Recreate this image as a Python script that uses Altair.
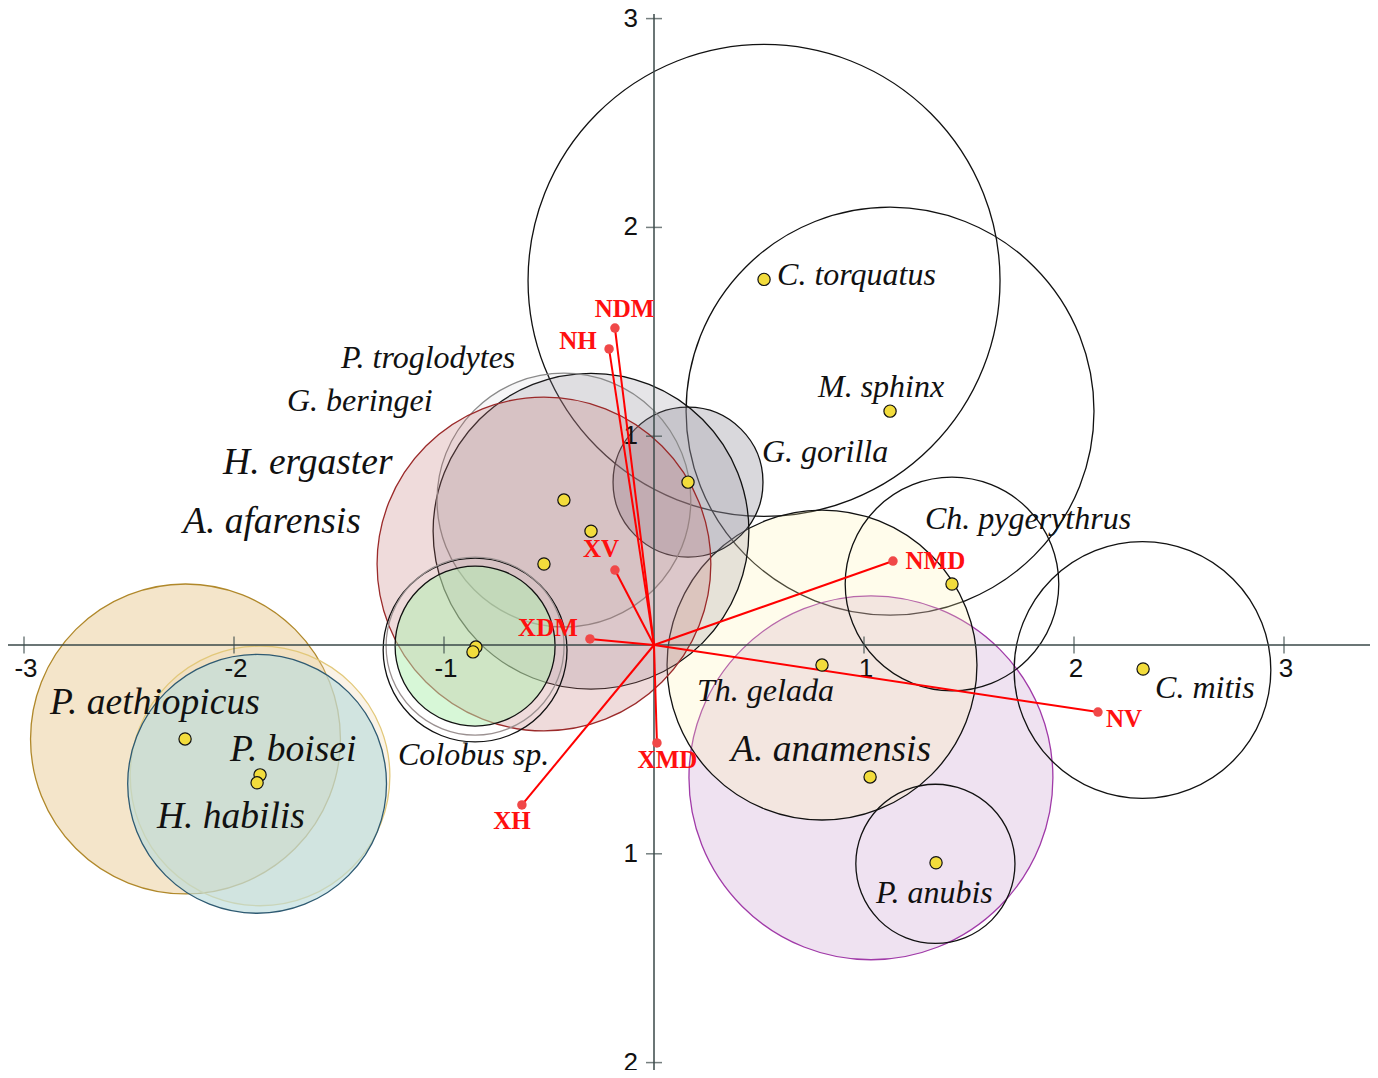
import altair as alt
import pandas as pd

# ---------------- data ----------------
# taxa points (score coordinates)
point_x = [0.524, 1.124, 0.162, -0.429, -0.300, -0.524, -0.848, -0.862, 0.800, 1.419,
           2.329, 1.029, 1.343, -2.233, -1.876, -1.890]
point_y = [1.751, 1.120, 0.780, 0.694, 0.545, 0.388, -0.010, -0.033, -0.096, 0.292,
           -0.115, -0.632, -1.043, -0.450, -0.622, -0.660]

# confidence circles: centre and radius (in axis units), listed in drawing order
circle_id = ["C. torquatus", "M. sphinx", "A. anamensis", "Th. gelada", "Ch. pygerythrus",
             "C. mitis", "P. anubis", "G. gorilla", "cluster 1", "cluster 2", "cluster 3",
             "Colobus 1", "Colobus 2", "Colobus 3", "P. aethiopicus", "P. boisei", "H. habilis"]
circle_x = [0.524, 1.124, 1.033, 0.800, 1.419, 2.326, 1.340, 0.162, -0.300, -0.429, -0.524,
            -0.852, -0.852, -0.852, -2.231, -1.876, -1.890]
circle_y = [1.746, 1.120, -0.636, -0.096, 0.292, -0.120, -1.048, 0.780, 0.545, 0.694, 0.388,
            -0.024, -0.005, -0.005, -0.450, -0.627, -0.665]
circle_r = [1.127, 0.974, 0.869, 0.740, 0.510, 0.613, 0.380, 0.358, 0.754, 0.606, 0.797,
            0.439, 0.425, 0.382, 0.740, 0.620, 0.618]

# circle styles (fill colour, fill opacity, stroke colour)
circle_style = {
    "C. torquatus": ("#ffffff", 0.0, "#111111"),
    "M. sphinx": ("#ffffff", 0.0, "#111111"),
    "A. anamensis": ("#b070b8", 0.2, "#a03aa8"),
    "Th. gelada": ("#fff3b0", 0.25, "#111111"),
    "Ch. pygerythrus": ("#ffffff", 0.0, "#111111"),
    "C. mitis": ("#ffffff", 0.0, "#111111"),
    "P. anubis": ("#ffffff", 0.0, "#111111"),
    "G. gorilla": ("#8c8a94", 0.33, "#111111"),
    "cluster 1": ("#8c8a94", 0.22, "#111111"),
    "cluster 2": ("#8c8a94", 0.08, "#8a8a8a"),
    "cluster 3": ("#c07070", 0.25, "#9b2a2a"),
    "Colobus 1": ("#ffffff", 0.0, "#111111"),
    "Colobus 2": ("#ffffff", 0.0, "#9a9090"),
    "Colobus 3": ("#b0f0b0", 0.5, "#111111"),
    "P. aethiopicus": ("#d9a84e", 0.3, "#b0882a"),
    "P. boisei": ("#f0d8b0", 0.3, "#e2c87a"),
    "H. habilis": ("#bcdcdc", 0.65, "#2e5a72"),
}

# taxon labels and their anchor positions
label_text = ["C. torquatus", "M. sphinx", "G. gorilla", "P. troglodytes", "G. beringei",
              "H. ergaster", "A. afarensis", "Ch. pygerythrus", "C. mitis", "Th. gelada",
              "A. anamensis", "P. anubis", "P. aethiopicus", "P. boisei", "H. habilis",
              "Colobus sp."]
label_x = [0.586, 0.781, 0.514, -1.490, -1.748, -2.052, -2.243, 1.290, 2.386, 0.205,
           0.367, 1.057, -2.876, -2.019, -2.367, -1.219]
label_y = [1.724, 1.188, 0.876, 1.327, 1.121, 0.819, 0.536, 0.556, -0.254, -0.268,
           -0.556, -1.236, -0.331, -0.556, -0.876, -0.575]
label_big = [False, False, False, False, False, True, True, False, False, False,
             True, False, True, True, True, False]

# variable vectors (loadings)
vec_name = ["NDM", "NH", "XV", "XDM", "NMD", "NV", "XMD", "XH"]
vec_x = [-0.186, -0.214, -0.186, -0.305, 1.138, 2.114, 0.014, -0.629]
vec_y = [1.518, 1.418, 0.359, 0.029, 0.402, -0.321, -0.469, -0.766]
vec_label_x = [-0.140, -0.362, -0.252, -0.505, 1.340, 2.238, 0.064, -0.676]
vec_label_y = [1.571, 1.418, 0.421, 0.043, 0.364, -0.393, -0.589, -0.881]

# axis ticks
x_ticks = [-3, -2, -1, 1, 2, 3]
x_tick_labels = ["-3", "-2", "-1", "1", "2", "3"]
y_ticks = [3, 2, 1, -1, -2]
y_tick_labels = ["3", "2", "1", "1", "2"]

# ---------------- layout ----------------
PAD_V = 6
W, H = 1362, 1062 - 2 * PAD_V
PX_X, PX_Y = 210.0, 208.8
X_MIN = -646 / PX_X
X_MAX = X_MIN + W / PX_X
Y_MAX = (637 - PAD_V) / PX_Y
Y_MIN = Y_MAX - H / PX_Y
R_PX = (PX_X + PX_Y) / 2

xs = alt.Scale(domain=[X_MIN, X_MAX], nice=False, zero=False)
ys = alt.Scale(domain=[Y_MIN, Y_MAX], nice=False, zero=False)


def X(f):
    return alt.X(f, type="quantitative", scale=xs, axis=None)


def Y(f):
    return alt.Y(f, type="quantitative", scale=ys, axis=None)


circ_df = pd.DataFrame({
    "name": circle_id, "x": circle_x, "y": circle_y, "r": circle_r,
    "idx": list(range(len(circle_id))),
    "fill": [circle_style[n][0] for n in circle_id],
    "fo": [circle_style[n][1] for n in circle_id],
    "stroke": [circle_style[n][2] for n in circle_id],
})
pts_df = pd.DataFrame({"x": point_x, "y": point_y})
lab_df = pd.DataFrame({"t": label_text, "x": label_x, "y": label_y,
                       "fs": [37.5 if b else 32 for b in label_big]})
vec_df = pd.DataFrame({"name": vec_name, "x": vec_x, "y": vec_y,
                       "ox": [0.0] * len(vec_name), "oy": [0.0] * len(vec_name),
                       "lx": vec_label_x, "ly": vec_label_y})
axes_df = pd.DataFrame({"x": [X_MIN, 0.0], "x2": [X_MAX, 0.0],
                        "y": [0.0, Y_MIN - PAD_V / PX_Y], "y2": [0.0, Y_MAX]})
xt_df = pd.DataFrame({"v": x_ticks, "t": x_tick_labels, "z": [0.0] * len(x_ticks)})
yt_df = pd.DataFrame({"v": y_ticks, "t": y_tick_labels, "z": [0.0] * len(y_ticks)})

AXC = "#3a4848"

circles = alt.Chart(circ_df).mark_point(shape="circle", filled=True, opacity=1, strokeWidth=1.3).encode(
    x=X("x"), y=Y("y"),
    size=alt.Size("r:Q", scale=alt.Scale(type="pow", exponent=2, domain=[0, 1],
                                         range=[0, (2 * R_PX) ** 2]), legend=None),
    fill=alt.Fill("fill:N", scale=None),
    fillOpacity=alt.FillOpacity("fo:Q", scale=None),
    stroke=alt.Stroke("stroke:N", scale=None),
    order=alt.Order("idx:Q"),
)

axes = alt.Chart(axes_df).mark_rule(color=AXC, strokeWidth=1.5).encode(
    x=X("x"), x2="x2:Q", y=Y("y"), y2="y2:Q")

xticks = alt.Chart(xt_df).mark_tick(orient="vertical", size=17, thickness=1.5, color=AXC).encode(
    x=X("v"), y=Y("z"))
yticks = alt.Chart(yt_df).mark_tick(orient="horizontal", size=16, thickness=1.5, color=AXC).encode(
    y=Y("v"), x=X("z"))

xlabels = alt.Chart(xt_df).mark_text(font="Liberation Sans", fontSize=26, color="#111",
                                     align="center", baseline="middle", dy=24, dx=2).encode(
    x=X("v"), y=Y("z"), text="t:N")
ylabels = alt.Chart(yt_df).mark_text(font="Liberation Sans", fontSize=26, color="#111",
                                     align="right", baseline="middle", dx=-16).encode(
    y=Y("v"), x=X("z"), text="t:N")

vec_lines = alt.Chart(vec_df).mark_rule(color="#ff0000", strokeWidth=2).encode(
    x=X("ox"), y=Y("oy"), x2="x:Q", y2="y:Q")
vec_dots = alt.Chart(vec_df).mark_point(shape="circle", filled=True, opacity=1, size=90,
                                        color="#f04848").encode(x=X("x"), y=Y("y"))
vec_text = alt.Chart(vec_df).mark_text(font="Liberation Serif", fontWeight="bold", fontSize=25,
                                       color="#ff1010", align="center", baseline="alphabetic").encode(
    x=X("lx"), y=Y("ly"), text="name:N")

pts = alt.Chart(pts_df).mark_point(shape="circle", filled=True, opacity=1, size=150,
                                   fill="#f2dc3c", stroke="#111111", strokeWidth=1.2).encode(
    x=X("x"), y=Y("y"))

labels = alt.Chart(lab_df).mark_text(font="Liberation Serif", fontStyle="italic", color="#111",
                                     align="left", baseline="alphabetic").encode(
    x=X("x"), y=Y("y"), text="t:N", size=alt.Size("fs:Q", scale=None))

chart = alt.layer(circles, axes, xticks, yticks, xlabels, ylabels, vec_lines, vec_dots,
                  vec_text, pts, labels).properties(
    width=W, height=H,
    padding={"top": PAD_V, "bottom": PAD_V, "left": 0, "right": 0},
    autosize=alt.AutoSizeParams(type="none"),
    background="white",
).configure_view(stroke=None)

chart.save("out.html", embed_options={"renderer": "svg", "actions": False})
